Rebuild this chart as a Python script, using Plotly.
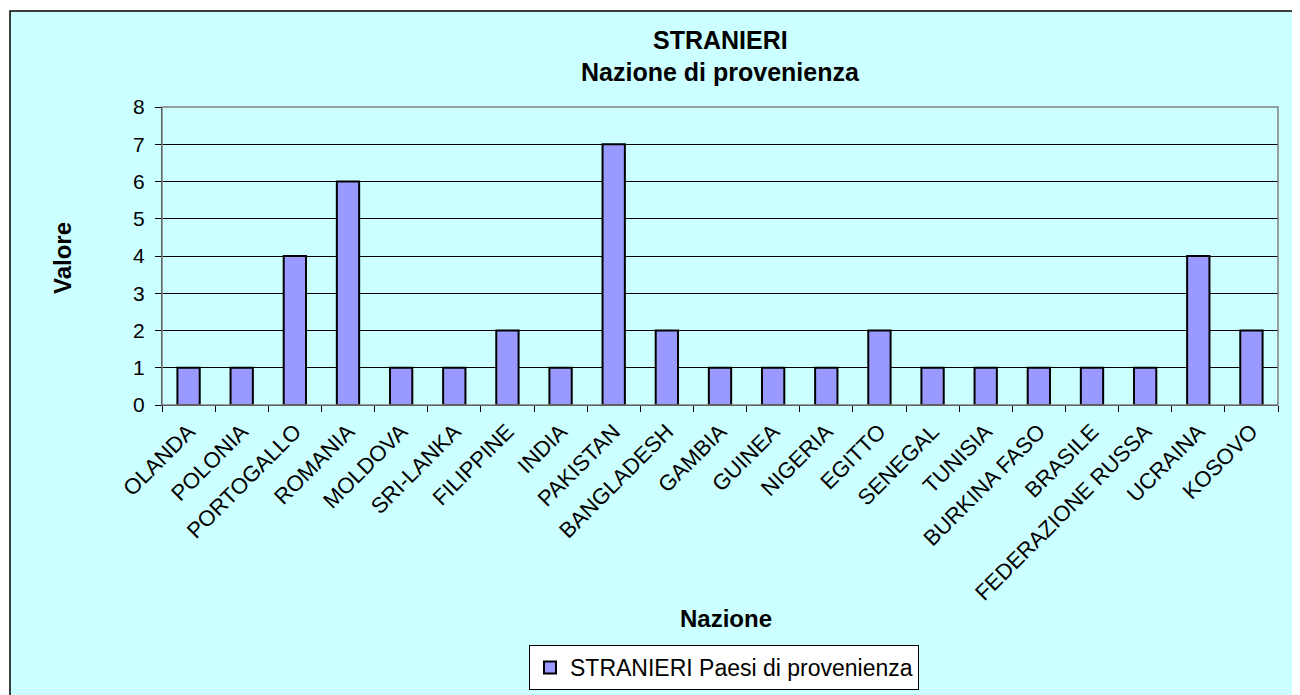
import plotly.graph_objects as go

categories = ["OLANDA", "POLONIA", "PORTOGALLO", "ROMANIA", "MOLDOVA", "SRI-LANKA",
              "FILIPPINE", "INDIA", "PAKISTAN", "BANGLADESH", "GAMBIA", "GUINEA",
              "NIGERIA", "EGITTO", "SENEGAL", "TUNISIA", "BURKINA FASO", "BRASILE",
              "FEDERAZIONE RUSSA", "UCRAINA", "KOSOVO"]
values = [1, 1, 4, 6, 1, 1, 2, 1, 7, 2, 1, 1, 1, 2, 1, 1, 1, 1, 1, 4, 2]
y_ticks = [0, 1, 2, 3, 4, 5, 6, 7, 8]
series_name = "STRANIERI Paesi di provenienza"

FONT = "Liberation Sans, Arial, sans-serif"
OFF = 8  # page body margin
W, H = 1300, 695
L, T = 162 - OFF, 107 - OFF
R = W - (1278 - OFF)
B = H - (405 - OFF)
pw, ph = W - L - R, H - T - B

def px(x):
    return (x - OFF - L) / pw

def py(y):
    return (H - B - (y - OFF)) / ph

fig = go.Figure()
fig.add_trace(go.Bar(
    x=categories, y=values, name=series_name,
    marker=dict(color="#9999FF", line=dict(color="black", width=2)),
    showlegend=True,
))

fig.update_layout(
    width=W, height=H,
    margin=dict(l=L, r=R, t=T, b=B),
    paper_bgcolor="white",
    plot_bgcolor="#C0C0C0",
    bargap=0.58,
    font=dict(family=FONT, color="black"),
    xaxis=dict(
        tickangle=-45, tickfont=dict(size=22),
        ticks="outside", ticklen=6, tickcolor="black", tickson="boundaries",
        ticklabelstandoff=4,
        showline=True, linecolor="black", linewidth=1,
        showgrid=False,
    ),
    yaxis=dict(
        range=[0, 8], tickvals=y_ticks, tickfont=dict(size=21),
        ticks="outside", ticklen=6, tickcolor="black",
        ticklabelstandoff=6,
        showline=True, linecolor="black", linewidth=1,
        showgrid=True, gridcolor="black", gridwidth=1,
        zeroline=False,
    ),
    legend=dict(
        orientation="h", x=px(724), xanchor="center", y=py(645), yanchor="top",
        bgcolor="white", bordercolor="black", borderwidth=1,
        font=dict(size=23, family=FONT),
    ),
    shapes=[
        dict(type="rect", xref="paper", yref="paper",
             x0=px(10), x1=px(1320), y0=py(720), y1=py(11),
             fillcolor="#CCFFFF", line=dict(color="black", width=1.5), layer="below"),
        dict(type="rect", xref="paper", yref="paper",
             x0=0, x1=1, y0=0, y1=1,
             line=dict(color="#808080", width=1.5), layer="above"),
    ],
)
fig.add_annotation(text="<b>STRANIERI</b>", xref="paper", yref="paper",
                   x=px(720), y=py(40), xanchor="center", yanchor="middle",
                   showarrow=False, font=dict(size=25))
fig.add_annotation(text="<b>Nazione di provenienza</b>", xref="paper", yref="paper",
                   x=px(720), y=py(72), xanchor="center", yanchor="middle",
                   showarrow=False, font=dict(size=25))
fig.add_annotation(text="<b>Nazione</b>", xref="paper", yref="paper",
                   x=px(726), y=py(618), xanchor="center", yanchor="middle",
                   showarrow=False, font=dict(size=24))
fig.add_annotation(text="<b>Valore</b>", xref="paper", yref="paper",
                   x=px(62), y=py(258), xanchor="center", yanchor="middle",
                   showarrow=False, textangle=-90, font=dict(size=24))
fig.write_html("out.html")
